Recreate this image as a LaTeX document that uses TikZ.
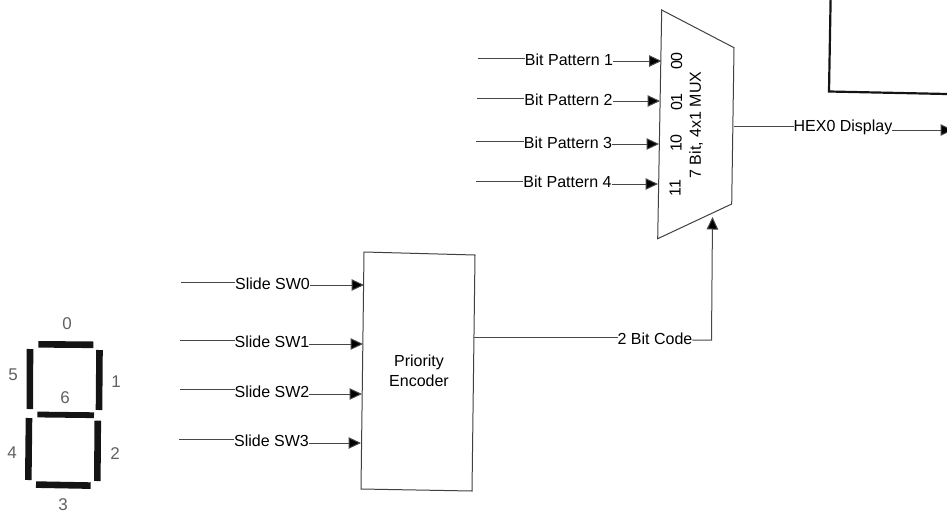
\documentclass[tikz,border=0pt]{standalone}
\usepackage{fontspec}
\setmainfont{Liberation Sans}
\usetikzlibrary{arrows.meta}
\tikzset{
  lbl/.style={inner sep=0pt,outer sep=0pt,font=\fontsize{16}{18}\selectfont,text=black},
  dig/.style={inner sep=0pt,font=\fontsize{17}{19}\selectfont,text=black!62},
  wire/.style={draw=black!72,line width=1pt},
  arr/.style={wire,-{Triangle[length=12.5pt,width=11.5pt,fill=black]}},
  outline/.style={draw=black!75,line width=1pt,line join=miter},
  seg/.style={draw=black!92,line width=6.6pt},
  frame/.style={draw=black!92,line width=2.2pt,line join=miter}
}
\begin{document}
\begin{tikzpicture}[x=1pt,y=-1pt]
\useasboundingbox (0,0) rectangle (947,514);
\clip (0,0) rectangle (947,514);
% top right frame
\draw[frame] (830.6,0) -- (829,91.5) -- (947,94);
% multiplexer
\coordinate (m1) at (661.7,10);
\coordinate (m2) at (734,47.7);
\coordinate (m3) at (731.7,204);
\coordinate (m4) at (657.7,238.7);
\draw[outline] (m1) -- (m2) -- (m3) -- (m4) -- cycle;
\node[lbl,rotate=90] (s0) at (676.7,61) {00};
\node[lbl,rotate=90] (s1) at (676.7,102) {01};
\node[lbl,rotate=90] (s2) at (676,143) {10};
\node[lbl,rotate=90] (s3) at (675,188) {11};
\node[lbl,rotate=90] (muxname) at (696,125) {7 Bit, 4x1 MUX};
% bit patterns
\coordinate (b1s) at (478,58.5);
\coordinate (b2s) at (477,98.5);
\coordinate (b3s) at (476,141);
\coordinate (b4s) at (476,181);
\coordinate (b1e) at (661.5,61);
\coordinate (b2e) at (660,101);
\coordinate (b3e) at (659,144);
\coordinate (b4e) at (658,184);
\node[lbl] (b1) at (569,59.5) {Bit Pattern 1};
\node[lbl] (b2) at (568.5,99.5) {Bit Pattern 2};
\node[lbl] (b3) at (568,142.5) {Bit Pattern 3};
\node[lbl] (b4) at (567.5,182) {Bit Pattern 4};
\foreach \n in {1,2,3,4}{
  \draw[wire] (b\n s) -- (b\n s -| b\n.west);
  \draw[arr] (b\n e -| b\n.east) -- (b\n e);
}
% output
\coordinate (outs) at (734,126.5);
\coordinate (oute) at (953,130);
\node[lbl] (hex) at (843,127.5) {HEX0 Display};
\draw[wire] (outs) -- (outs -| hex.west);
\draw[arr] (oute -| hex.east) -- (oute);
% priority encoder
\coordinate (p1) at (364,252);
\coordinate (p2) at (475,255);
\coordinate (p3) at (472,491);
\coordinate (p4) at (361,489);
\draw[outline] (p1) -- (p2) -- (p3) -- (p4) -- cycle;
\node[lbl,align=center] (enc) at (419,371) {Priority\\[2pt]Encoder};
% switches
\coordinate (w0s) at (181,282);
\coordinate (w1s) at (180,340);
\coordinate (w2s) at (180,389);
\coordinate (w3s) at (179,439);
\coordinate (w0e) at (364,285);
\coordinate (w1e) at (363,344);
\coordinate (w2e) at (362,394);
\coordinate (w3e) at (361,443);
\node[lbl] (w0) at (272.5,283.5) {Slide SW0};
\node[lbl] (w1) at (272,342) {Slide SW1};
\node[lbl] (w2) at (272,391.5) {Slide SW2};
\node[lbl] (w3) at (271.5,441) {Slide SW3};
\foreach \n in {0,1,2,3}{
  \draw[wire] (w\n s) -- (w\n s -| w\n.west);
  \draw[arr] (w\n e -| w\n.east) -- (w\n e);
}
% code
\coordinate (cs) at (474,337);
\coordinate (cc) at (711.5,340);
\coordinate (ce) at (712.5,217);
\node[lbl] (code) at (655,339) {2 Bit Code};
\draw[wire] (cs) -- (cs -| code.west);
\draw[arr] (cc -| code.east) -- (cc) -- (ce);
% seven segment display
\draw[seg] (38.3,344.3) -- (93.3,344.8);
\draw[seg] (30,349) -- (29.8,409);
\draw[seg] (99.5,350) -- (99,410);
\draw[seg,line width=5.8pt] (37.3,414.5) -- (94,415.2);
\draw[seg] (29,418) -- (28.3,480);
\draw[seg] (97.8,420.7) -- (97.3,481);
\draw[seg] (36,484.6) -- (90.7,485.6);
\node[dig] (d0) at (67,324) {0};
\node[dig] (d5) at (13,375) {5};
\node[dig] (d1) at (116,382) {1};
\node[dig] (d6) at (65,398) {6};
\node[dig] (d4) at (12,453) {4};
\node[dig] (d2) at (115,454) {2};
\node[dig] (d3) at (63,505) {3};
\end{tikzpicture}
\end{document}
